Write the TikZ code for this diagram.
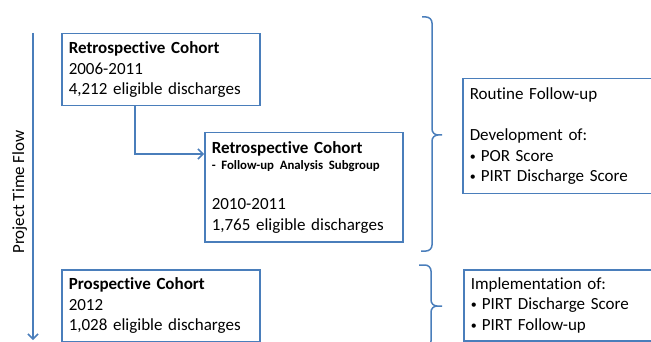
\documentclass[tikz,border=0pt]{standalone}
\usepackage{fontspec}
\setmainfont{Carlito}[Ligatures=NoCommon]
\usetikzlibrary{arrows.meta}
\definecolor{lineblue}{RGB}{74,126,187}

\newcommand\pbul{\makebox[11pt][l]{\raisebox{1pt}{\fontsize{12}{0}\selectfont\textbullet}}}

\tikzset{
  cohort/.style={draw=lineblue, line width=1.5pt, anchor=north west, align=left,
    inner xsep=7pt, font=\fontsize{17}{20.5}\selectfont},
  flow/.style={draw=lineblue, line width=1.5pt, -{Straight Barb[length=5pt,width=10pt]}},
  brc/.style={draw=lineblue, line width=1.5pt, rounded corners=6pt}
}

\begin{document}
\begin{tikzpicture}[x=1pt,y=-1pt]
\useasboundingbox (0,0) rectangle (651,342);
\clip (0,0) rectangle (651,342);

% time line
\coordinate (tstart) at (33,33);
\coordinate (tend) at (33,340);
\draw[flow] (tstart) -- (tend);
\node[rotate=90, anchor=base, inner sep=0pt, font=\fontsize{17}{20.5}\selectfont] (timelbl) at (24,192) {Project Time Flow};

% cohorts
\node[cohort, text width=184pt, minimum height=72pt] (retro) at (61,33)
  {\textbf{Retrospective Cohort}\\2006-2011\\4,212 eligible discharges};
\node[cohort, text width=184pt, minimum height=109pt] (subgrp) at (204,132)
  {\textbf{Retrospective Cohort}\\[-4pt]{\fontsize{12.8}{15}\selectfont\bfseries - Follow-up Analysis Subgroup}\\[19.5pt]2010-2011\\1,765 eligible discharges};
\node[cohort, text width=184pt, minimum height=72pt] (prosp) at (61,269)
  {\textbf{Prospective Cohort}\\2012\\1,028 eligible discharges};

% outcomes
\node[cohort, text width=240pt, minimum height=115pt] (routine) at (462,78)
  {Routine Follow-up\\[20.5pt]Development of:\\\pbul POR Score\\\pbul PIRT Discharge Score};
\node[cohort, text width=240pt, minimum height=71pt] (implem) at (463,269)
  {Implementation of:\\\pbul PIRT Discharge Score\\\pbul PIRT Follow-up};

% subgroup link
\coordinate (bend) at (135,154);
\draw[flow] (retro.south -| bend) |- (subgrp.west |- bend);

% braces
\coordinate (b1top) at (422,17);
\coordinate (b1mid) at (432,135);
\coordinate (b1tip) at (442,135);
\coordinate (b1bot) at (421,251);
\coordinate (b2top) at (419,265);
\coordinate (b2mid) at (431,306);
\coordinate (b2tip) at (442,306);
\coordinate (b2bot) at (419,347);
\draw[brc] (b1top) -| (b1mid) -- (b1tip) (b1tip) -- (b1mid) |- (b1bot);
\draw[brc] (b2top) -| (b2mid) -- (b2tip) (b2tip) -- (b2mid) |- (b2bot);
\end{tikzpicture}
\end{document}
